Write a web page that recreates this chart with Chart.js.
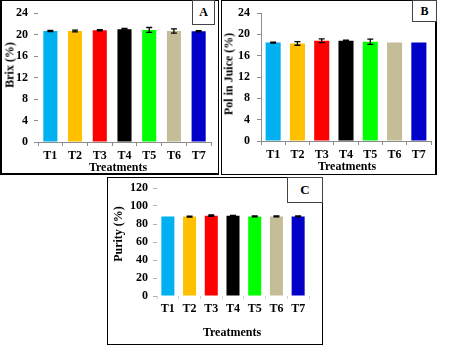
<!DOCTYPE html>
<html><head><meta charset="utf-8">
<script src="https://cdn.jsdelivr.net/npm/chart.js@4"></script>
<style>
html,body{margin:0;padding:0;background:#fff;width:451px;height:358px;overflow:hidden;}
.abs{position:absolute;}
.panel{position:absolute;border:1px solid #000;box-sizing:border-box;pointer-events:none;}
.lbl{position:absolute;border:1px solid #444;box-sizing:border-box;background:#fff;font:bold 12px "Liberation Serif",serif;display:flex;align-items:center;justify-content:center;color:#000;}
.ttl{position:absolute;font:bold 12px "Liberation Serif",serif;color:#000;white-space:nowrap;}
.ytl{position:absolute;font:bold 12px "Liberation Serif",serif;color:#000;white-space:nowrap;transform:translate(-50%,-50%) rotate(-90deg);}
.xtl{transform:translate(-50%,-50%);}
</style></head>
<body>
<canvas id="cA" class="abs" style="left:0;top:0"></canvas>
<canvas id="cB" class="abs" style="left:221px;top:0"></canvas>
<canvas id="cC" class="abs" style="left:107px;top:177px"></canvas>
<div class="panel" style="left:0;top:0;width:219px;height:175px;border-left-width:2px;border-bottom-width:2px;"></div>
<div class="panel" style="left:221px;top:0;width:216px;height:175px;border-right-width:2px;"></div>
<div class="panel" style="left:107px;top:177px;width:216px;height:168px;"></div>
<div class="lbl" style="left:192px;top:0;width:23px;height:25px;">A</div>
<div class="lbl" style="left:412px;top:0;width:25px;height:22px;">B</div>
<div class="lbl" style="left:287px;top:177px;width:36px;height:26px;font-size:13px;">C</div>
<div class="ytl" style="left:10px;top:65px;">Brix (%)</div>
<div class="ytl" style="left:229px;top:74px;">Pol in Juice (%)</div>
<div class="ytl" style="left:118px;top:234px;">Purity (%)</div>
<div class="ttl xtl" style="left:118px;top:167px;">Treatments</div>
<div class="ttl xtl" style="left:347px;top:166px;">Treatments</div>
<div class="ttl xtl" style="left:232px;top:332px;">Treatments</div>
<script>
const categories = ['T1','T2','T3','T4','T5','T6','T7'];
const barColors = ['#00B0F0','#FFC000','#FF0000','#000000','#00FF00','#C4BD97','#0000C8'];
const brix = [20.65, 20.65, 20.8, 21.0, 20.85, 20.65, 20.6];
const brixErr = [0.1, 0.15, 0.1, 0.15, 0.45, 0.4, 0.1];
const pol = [18.45, 18.3, 18.8, 18.8, 18.6, 18.45, 18.45];
const polErr = [0.1, 0.35, 0.35, 0.1, 0.5, 0, 0];
const purity = [88.3, 88.3, 89.3, 89.2, 88.4, 88.4, 88.4];
const purityErr = [0, 0.5, 0.7, 0.3, 0.5, 0.5, 0.5];
const brixTicks = [0, 24, 4];
const polTicks = [0, 24, 4];
const purityTicks = [0, 120, 20];

const errorBars = {
  id: 'errorBars',
  afterDatasetsDraw(chart, args, opts) {
    const ctx = chart.ctx, ys = chart.scales.y;
    chart.data.datasets.forEach((ds, i) => {
      const meta = chart.getDatasetMeta(i);
      const errs = ds.errors || [];
      meta.data.forEach((el, j) => {
        const e = errs[j];
        if (!e) return;
        const v = ds.data[j];
        const y1 = ys.getPixelForValue(v + e), y2 = ys.getPixelForValue(v - e);
        ctx.save();
        ctx.strokeStyle = '#000';
        ctx.lineWidth = 1.3;
        ctx.beginPath();
        ctx.moveTo(el.x, y1); ctx.lineTo(el.x, y2);
        ctx.moveTo(el.x - 3, y1); ctx.lineTo(el.x + 3, y1);
        ctx.moveTo(el.x - 3, y2); ctx.lineTo(el.x + 3, y2);
        ctx.stroke();
        ctx.restore();
      });
    });
  }
};

function make(id, w, h, data, errs, tk, cfg) {
  const cv = document.getElementById(id);
  cv.width = w; cv.height = h; cv.style.width = w + 'px'; cv.style.height = h + 'px';
  const font = {family: '"Liberation Serif", serif', size: 12, weight: 'bold', lineHeight: 1};
  new Chart(cv, {
    type: 'bar',
    data: {labels: categories, datasets: [{data: data, errors: errs, backgroundColor: barColors,
      barPercentage: cfg.bp, categoryPercentage: 1}]},
    options: {
      responsive: false, animation: false, devicePixelRatio: 1,
      layout: {padding: {top: cfg.top, right: cfg.right, left: 0, bottom: 0}},
      plugins: {legend: {display: false}, tooltip: {enabled: false}},
      scales: {
        x: {
          afterFit: s => { s.height = cfg.xh; },
          grid: {display: true, drawOnChartArea: false, drawTicks: true, tickLength: cfg.xtl, color: cfg.xgc, offset: true},
          border: {display: cfg.xborder, color: '#8c8c8c'},
          ticks: {font: font, color: '#000', padding: cfg.xpad, maxRotation: 0}
        },
        y: {
          min: tk[0], max: tk[1],
          afterFit: s => { s.width = cfg.yw; },
          grid: {display: true, drawOnChartArea: false, drawTicks: true, tickLength: 4, color: cfg.ygc},
          border: {display: cfg.yborder, color: '#8c8c8c'},
          ticks: {stepSize: tk[2], font: font, color: '#000', padding: cfg.ypad}
        }
      }
    },
    plugins: [errorBars]
  });
}

make('cA', 218, 174, brix, brixErr, brixTicks,
  {bp: 0.57, top: 13, right: 7, xh: 32, yw: 38, xtl: 4, xpad: 4, ypad: 6, xgc: '#8c8c8c', ygc: '#8c8c8c', xborder: true, yborder: false});
make('cB', 215, 174, pol, polErr, polTicks,
  {bp: 0.62, top: 11, right: 5, xh: 33, yw: 40, xtl: 4, xpad: 4, ypad: 7, xgc: '#8c8c8c', ygc: '#8c8c8c', xborder: true, yborder: true});
make('cC', 215, 167, purity, purityErr, purityTicks,
  {bp: 0.6, top: 6, right: 13, xh: 48, yw: 50, xtl: 3, xpad: 4, ypad: 5, xgc: '#d0d0d0', ygc: '#b0b0b0', xborder: false, yborder: false});
</script>
</body></html>
